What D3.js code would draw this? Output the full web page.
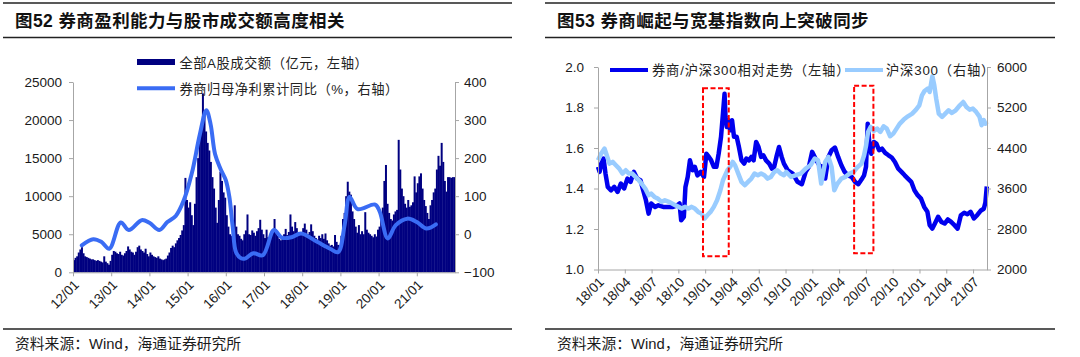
<!DOCTYPE html>
<html><head><meta charset="utf-8">
<script src="https://cdn.jsdelivr.net/npm/d3@7"></script>
<style>
html,body{margin:0;padding:0;background:#fff;}
svg{display:block;}
text{font-family:"Liberation Sans","Noto Sans CJK SC",sans-serif;}
</style></head><body>
<svg id="chart" width="1080" height="357"></svg>
<script>
// ================= Figure 52 data =================
const fig52Title = "图52 券商盈利能力与股市成交额高度相关";
const fig52Legend = ["全部A股成交额（亿元，左轴）", "券商归母净利累计同比（%，右轴）"];
const fig52XTicks = ["12/01","13/01","14/01","15/01","16/01","17/01","18/01","19/01","20/01","21/01"];
const fig52LeftTicks = [0, 5000, 10000, 15000, 20000, 25000];
const fig52RightTicks = [-100, 0, 100, 200, 300, 400];
// A-share turnover (100m CNY), semi-monthly from 2012-01
const turnoverStartYear = 2012;
const turnoverPerYear = 24;
const turnover2012 = [1600,1900,2100,2600,3000,3300,2500,2100,2000,1900,1800,1700,1700,1600,1500,1600,1500,1400,1300,2100,1400,1200,1000,1500];
const turnover2013 = [2300,2800,2700,2500,2400,2700,2300,2200,2500,2800,3400,3000,2700,2600,2300,2700,3300,3500,3000,2800,2600,3100,2400,2100];
const turnover2014 = [2600,2300,2100,2000,1900,2100,1800,1700,1600,1700,1800,2200,2600,3200,3500,3300,3800,4200,4500,4900,5500,6200,12400,9500];
const turnover2015 = [8500,9200,7500,6200,9000,12500,15000,17500,19000,23500,21000,18500,17000,16000,14500,12500,11000,8500,6500,9500,13200,12000,10500,9800];
const turnover2016 = [7500,6000,5000,4800,5200,8800,6000,5000,4800,4400,4200,5000,5500,7600,5000,4900,5500,5200,4800,5400,5800,6900,5600,5000];
const turnover2017 = [4500,5600,4600,4300,4800,5200,7000,5500,4800,4400,4200,4600,5000,5700,4900,5300,7600,6000,5400,6600,5800,5200,4900,5100];
const turnover2018 = [5800,6400,5600,5000,5300,6300,5400,4800,4500,4300,4800,4500,5000,4400,5100,4200,3800,3500,3600,3400,4900,4000,3600,3500];
const turnover2019 = [4800,7000,7800,10000,11900,10600,10200,8000,7000,6000,5200,6200,5000,5400,5000,7900,5600,5200,5000,4800,4600,5000,4700,5600];
const turnover2020 = [6000,7200,8500,12000,14100,9000,7800,7000,6800,7600,8000,8200,17400,13500,11000,10000,9000,8500,9500,8600,8800,9200,12600,10500];
const turnover2021 = [11700,12600,13000,11000,9500,8700,7800,7000,8800,9500,10500,11000,13500,15300,14000,17000,14500,12000,10600,12500,12500,12400,12500,12500];
// Broker net profit cumulative YoY (%), [year, value]
const profitYoY = [[2012.23,-29],[2012.53,-13],[2012.74,-20],[2012.95,-38],[2013.25,31],[2013.46,11],[2013.80,37],[2014.0,30],[2014.26,11],[2014.47,32],[2014.69,48],[2014.90,89],[2015.11,160],[2015.32,262],[2015.49,326],[2015.60,290],[2015.72,210],[2015.86,172],[2016.0,142],[2016.09,100],[2016.18,20],[2016.27,-48],[2016.40,-63],[2016.50,-64],[2016.72,-50],[2016.97,-55],[2017.26,11],[2017.47,-9],[2017.72,-8],[2017.97,2],[2018.39,-20],[2018.73,-38],[2018.94,-47],[2019.11,24],[2019.24,98],[2019.45,66],[2019.91,78],[2020.03,59],[2020.24,-11],[2020.45,24],[2020.75,41],[2021.0,32],[2021.25,15],[2021.5,26]];

// ================= Figure 53 data =================
const fig53Title = "图53 券商崛起与宽基指数向上突破同步";
const fig53Legend = ["券商/沪深300相对走势（左轴）", "沪深300（右轴）"];
const fig53XTicks = ["18/01","18/04","18/07","18/10","19/01","19/04","19/07","19/10","20/01","20/04","20/07","20/10","21/01","21/04","21/07"];
const fig53LeftTicks = [1.0, 1.2, 1.4, 1.6, 1.8, 2.0];
const fig53RightTicks = [2000, 2800, 3600, 4400, 5200, 6000];
const brokerRelative = [[2018.000,1.507],[2018.015,1.482],[2018.030,1.523],[2018.052,1.548],[2018.070,1.474],[2018.091,1.408],[2018.122,1.391],[2018.152,1.408],[2018.183,1.383],[2018.213,1.424],[2018.244,1.400],[2018.274,1.449],[2018.304,1.433],[2018.335,1.482],[2018.365,1.449],[2018.396,1.441],[2018.426,1.383],[2018.447,1.342],[2018.472,1.276],[2018.496,1.326],[2018.533,1.309],[2018.563,1.317],[2018.609,1.309],[2018.654,1.309],[2018.700,1.309],[2018.740,1.317],[2018.761,1.326],[2018.776,1.243],[2018.801,1.260],[2018.816,1.408],[2018.837,1.457],[2018.858,1.539],[2018.883,1.490],[2018.904,1.507],[2018.928,1.465],[2018.959,1.482],[2018.989,1.457],[2019.011,1.572],[2019.035,1.556],[2019.056,1.539],[2019.081,1.507],[2019.105,1.507],[2019.126,1.572],[2019.148,1.655],[2019.166,1.770],[2019.181,1.868],[2019.190,1.753],[2019.202,1.704],[2019.218,1.737],[2019.233,1.688],[2019.251,1.737],[2019.269,1.655],[2019.294,1.655],[2019.315,1.605],[2019.339,1.539],[2019.364,1.523],[2019.385,1.548],[2019.409,1.539],[2019.431,1.556],[2019.452,1.539],[2019.476,1.630],[2019.498,1.605],[2019.522,1.556],[2019.543,1.564],[2019.568,1.539],[2019.598,1.523],[2019.623,1.498],[2019.644,1.507],[2019.665,1.556],[2019.689,1.605],[2019.714,1.556],[2019.735,1.523],[2019.771,1.490],[2019.817,1.474],[2019.862,1.433],[2019.902,1.421],[2019.938,1.482],[2019.968,1.507],[2019.998,1.581],[2020.029,1.548],[2020.065,1.515],[2020.095,1.507],[2020.120,1.449],[2020.150,1.556],[2020.180,1.589],[2020.211,1.602],[2020.241,1.556],[2020.271,1.515],[2020.302,1.482],[2020.332,1.465],[2020.368,1.457],[2020.398,1.433],[2020.429,1.421],[2020.459,1.444],[2020.483,1.465],[2020.501,1.507],[2020.517,1.720],[2020.532,1.622],[2020.550,1.572],[2020.574,1.630],[2020.598,1.622],[2020.623,1.589],[2020.650,1.597],[2020.680,1.576],[2020.711,1.564],[2020.741,1.553],[2020.771,1.531],[2020.802,1.498],[2020.832,1.482],[2020.862,1.465],[2020.892,1.449],[2020.923,1.433],[2020.953,1.391],[2020.983,1.367],[2021.014,1.350],[2021.044,1.309],[2021.074,1.285],[2021.095,1.219],[2021.120,1.202],[2021.144,1.227],[2021.174,1.260],[2021.205,1.235],[2021.235,1.227],[2021.265,1.247],[2021.295,1.235],[2021.326,1.219],[2021.356,1.202],[2021.386,1.268],[2021.417,1.280],[2021.447,1.273],[2021.477,1.285],[2021.508,1.252],[2021.538,1.268],[2021.570,1.290],[2021.600,1.300],[2021.615,1.330],[2021.628,1.410]];
const hs300 = [[2018.000,4158],[2018.030,4290],[2018.061,4388],[2018.082,4257],[2018.107,4092],[2018.137,4125],[2018.167,4059],[2018.198,3993],[2018.228,3895],[2018.259,3961],[2018.289,3895],[2018.320,3895],[2018.350,3829],[2018.381,3763],[2018.411,3684],[2018.441,3599],[2018.472,3467],[2018.496,3500],[2018.527,3434],[2018.557,3401],[2018.594,3336],[2018.624,3368],[2018.661,3336],[2018.691,3303],[2018.721,3270],[2018.752,3237],[2018.782,3204],[2018.813,3237],[2018.843,3204],[2018.874,3237],[2018.904,3204],[2018.935,3138],[2018.965,3105],[2018.995,3007],[2019.020,3072],[2019.050,3138],[2019.081,3237],[2019.111,3368],[2019.142,3566],[2019.166,3763],[2019.187,3862],[2019.208,3961],[2019.233,4026],[2019.257,4125],[2019.279,4059],[2019.309,3895],[2019.339,3730],[2019.370,3664],[2019.400,3730],[2019.431,3796],[2019.461,3895],[2019.492,3862],[2019.522,3895],[2019.553,3862],[2019.583,3796],[2019.613,3829],[2019.644,3928],[2019.674,3961],[2019.705,3895],[2019.735,3862],[2019.756,3928],[2019.802,3829],[2019.847,3862],[2019.892,3895],[2019.938,3993],[2019.983,4059],[2020.023,4191],[2020.053,4158],[2020.083,3697],[2020.120,4125],[2020.150,4224],[2020.180,4026],[2020.205,3566],[2020.235,3697],[2020.271,3796],[2020.308,3829],[2020.347,3895],[2020.386,3928],[2020.423,4026],[2020.459,4092],[2020.483,4257],[2020.502,4454],[2020.520,4717],[2020.544,4816],[2020.574,4737],[2020.605,4783],[2020.635,4717],[2020.665,4829],[2020.695,4783],[2020.726,4632],[2020.756,4684],[2020.786,4783],[2020.817,4882],[2020.853,4961],[2020.892,5026],[2020.932,5079],[2020.968,5158],[2020.998,5243],[2021.023,5441],[2021.047,5526],[2021.077,5572],[2021.095,5507],[2021.120,5816],[2021.138,5638],[2021.156,5375],[2021.180,5079],[2021.211,5013],[2021.241,5079],[2021.271,5145],[2021.302,5092],[2021.338,5145],[2021.377,5243],[2021.408,5309],[2021.438,5211],[2021.468,5158],[2021.498,5178],[2021.529,5112],[2021.560,5020],[2021.580,4850],[2021.600,4950],[2021.615,4880],[2021.628,4920]];
// highlight boxes: [startYear, endYear, lowValue, highValue] on left axis
const highlightBoxes = [[2018.98, 2019.22, 1.066, 1.895], [2020.39, 2020.57, 1.080, 1.908]];
const sourceNote = "资料来源：Wind，海通证券研究所";

// ================= Drawing =================
const svg = d3.select("#chart");
svg.append("rect").attr("width",1080).attr("height",357).attr("fill","#fff");
const AXIS = "#a6a6a6", TXT = "#1a1a1a", FS = "13.5px";

function frame(x0, x1, tx, title) {
  svg.append("line").attr("x1",x0).attr("x2",x1).attr("y1",3).attr("y2",3).attr("stroke","#222").attr("stroke-width",1.5);
  svg.append("line").attr("x1",x0).attr("x2",x1).attr("y1",37.5).attr("y2",37.5).attr("stroke","#222").attr("stroke-width",1.5);
  svg.append("line").attr("x1",x0).attr("x2",x1).attr("y1",329).attr("y2",329).attr("stroke","#222").attr("stroke-width",1.5);
  svg.append("text").attr("x",tx).attr("y",27).attr("font-size","17.5px").attr("font-weight","bold")
     .attr("letter-spacing","0.4px").attr("fill","#111").text(title);
  svg.append("text").attr("x",tx).attr("y",349).attr("font-size","14.8px").attr("fill",TXT).text(sourceNote);
}
function styleAxis(g) {
  g.select(".domain").attr("stroke",AXIS);
  g.selectAll(".tick line").attr("stroke",AXIS);
  g.selectAll(".tick text").attr("fill",TXT).attr("font-size",FS).attr("font-family","Liberation Sans, Arial, sans-serif");
}
function rotateLabels(g) {
  g.selectAll(".tick text").attr("text-anchor","end").attr("dy","0.35em").attr("y",0)
   .attr("transform","translate(3,10) rotate(-45)");
}

// ---------- Figure 52 ----------
frame(3, 512, 15, fig52Title);
const turnover = [].concat(turnover2012, turnover2013, turnover2014, turnover2015, turnover2016,
                           turnover2017, turnover2018, turnover2019, turnover2020, turnover2021);
const xL = d3.scaleLinear().domain([2012, 2022]).range([73, 455]);
const yLv = d3.scaleLinear().domain([0, 25000]).range([272.3, 82]);
const yLp = d3.scaleLinear().domain([-100, 400]).range([272.3, 82]);

svg.append("g").selectAll("rect").data(turnover).join("rect")
  .attr("x",(d,i)=>xL(turnoverStartYear + i/turnoverPerYear))
  .attr("width",(d,i)=>xL(turnoverStartYear+(i+1)/turnoverPerYear)-xL(turnoverStartYear+i/turnoverPerYear)+0.4)
  .attr("y",d=>yLv(d)).attr("height",d=>yLv(0)-yLv(d)).attr("fill","#000080");

svg.append("path").datum(profitYoY)
  .attr("d", d3.line().x(d=>xL(d[0])).y(d=>yLp(d[1])).curve(d3.curveCatmullRom.alpha(0.5)))
  .attr("fill","none").attr("stroke","#3a6cf4").attr("stroke-width",4).attr("stroke-linecap","round");

const gL1 = svg.append("g").attr("transform","translate(73,0)")
  .call(d3.axisLeft(yLv).tickValues(fig52LeftTicks).tickSize(4).tickSizeOuter(0).tickPadding(7).tickFormat(d3.format("d")));
styleAxis(gL1);
const gL2 = svg.append("g").attr("transform","translate(455,0)")
  .call(d3.axisRight(yLp).tickValues(fig52RightTicks).tickSize(4).tickSizeOuter(0).tickPadding(5).tickFormat(d3.format("d")));
styleAxis(gL2);
const gL3 = svg.append("g").attr("transform","translate(0,272.3)")
  .call(d3.axisBottom(xL).tickValues(fig52XTicks.map((t,i)=>2012+i)).tickSize(4).tickSizeOuter(0).tickFormat((d,i)=>fig52XTicks[i]));
styleAxis(gL3); rotateLabels(gL3);

// legend 52
svg.append("rect").attr("x",137).attr("y",59).attr("width",38).attr("height",6).attr("fill","#000080");
svg.append("text").attr("x",179.5).attr("y",67.5).attr("font-size","13.3px").attr("letter-spacing","0.5px").attr("fill","#222").text(fig52Legend[0]);
svg.append("line").attr("x1",137).attr("x2",175).attr("y1",88.3).attr("y2",88.3).attr("stroke","#3a6cf4").attr("stroke-width",4);
svg.append("text").attr("x",179.5).attr("y",94).attr("font-size","13.3px").attr("letter-spacing","0.5px").attr("fill","#222").text(fig52Legend[1]);

// ---------- Figure 53 ----------
frame(545, 1055, 557, fig53Title);
const xR = d3.scaleLinear().domain([2018, 2021.63]).range([598, 987]);
const yRl = d3.scaleLinear().domain([1, 2]).range([269.5, 67]);
const yRr = d3.scaleLinear().domain([2000, 6000]).range([269.5, 67]);

svg.append("path").datum(brokerRelative)
  .attr("d", d3.line().x(d=>xR(d[0])).y(d=>yRl(d[1])))
  .attr("fill","none").attr("stroke","#0000ee").attr("stroke-width",4.5).attr("stroke-linejoin","round");
svg.append("path").datum(hs300)
  .attr("d", d3.line().x(d=>xR(d[0])).y(d=>yRr(d[1])))
  .attr("fill","none").attr("stroke","#99ccff").attr("stroke-width",4.5).attr("stroke-linejoin","round");

svg.append("g").selectAll("rect").data(highlightBoxes).join("rect")
  .attr("x",d=>xR(d[0])).attr("width",d=>xR(d[1])-xR(d[0]))
  .attr("y",d=>yRl(d[3])).attr("height",d=>yRl(d[2])-yRl(d[3]))
  .attr("fill","none").attr("stroke","#ff0000").attr("stroke-width",2).attr("stroke-dasharray","5,2.5");

const gR1 = svg.append("g").attr("transform","translate(598,0)")
  .call(d3.axisLeft(yRl).tickValues(fig53LeftTicks).tickSize(4).tickSizeOuter(0).tickPadding(10).tickFormat(d3.format(".1f")));
styleAxis(gR1);
const gR2 = svg.append("g").attr("transform","translate(987,0)")
  .call(d3.axisRight(yRr).tickValues(fig53RightTicks).tickSize(4).tickSizeOuter(0).tickPadding(6).tickFormat(d3.format("d")));
styleAxis(gR2);
const gR3 = svg.append("g").attr("transform","translate(0,269.5)")
  .call(d3.axisBottom(xR).tickValues(fig53XTicks.map((t,i)=>2018+i/4)).tickSize(4).tickSizeOuter(0).tickFormat((d,i)=>fig53XTicks[i]));
styleAxis(gR3); rotateLabels(gR3);

// legend 53
svg.append("line").attr("x1",610).attr("x2",648).attr("y1",70).attr("y2",70).attr("stroke","#0000ee").attr("stroke-width",4);
svg.append("text").attr("x",652).attr("y",74.5).attr("font-size","13.3px").attr("letter-spacing","0.8px").attr("fill","#222").text(fig53Legend[0]);
svg.append("line").attr("x1",845).attr("x2",883).attr("y1",70).attr("y2",70).attr("stroke","#99ccff").attr("stroke-width",4);
svg.append("text").attr("x",886).attr("y",74.5).attr("font-size","13.3px").attr("letter-spacing","0.8px").attr("fill","#222").text(fig53Legend[1]);
</script>
</body></html>
